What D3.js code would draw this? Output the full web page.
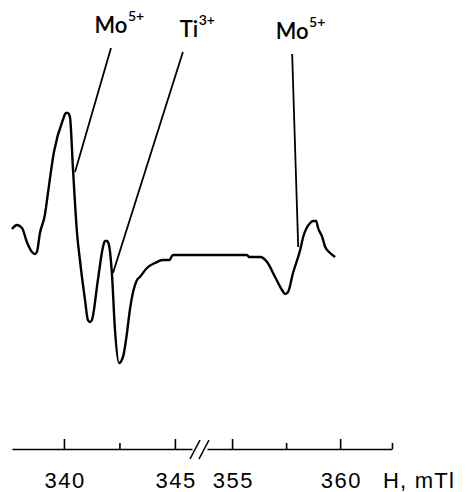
<!DOCTYPE html>
<html>
<head>
<meta charset="utf-8">
<script src="https://cdn.jsdelivr.net/npm/d3@7"></script>
<style>
  body { margin: 0; background: #fff; }
  .tick text { font-family: "Liberation Sans", Arial, sans-serif; letter-spacing: 1.5px; }
  .ion { font-family: Lato, "Open Sans", sans-serif; font-weight: 600; fill: #000; }
</style>
</head>
<body>
<div id="epr"></div>
<script>
// EPR spectrum, field axis broken between 346 and 354 mT

// field (mT) and signal (arbitrary units, 0 = baseline)
let field = [
  337.66, 337.88, 338.11, 338.33, 338.56, 338.69, 338.78, 338.92, 339.14, 339.28,
  339.55, 339.95, 340.09, 340.18, 340.27, 340.41, 340.59, 340.72, 340.95, 341.08,
  341.17, 341.26, 341.53, 341.76, 341.85, 341.94, 342.03, 342.16, 342.30, 342.48,
  342.66, 342.84, 342.97, 343.29, 343.42, 343.74, 344.10, 344.46, 344.77, 344.86,
  344.95, 345.77,
  353.84, 355.69, 355.79, 356.30, 356.62, 356.99, 357.31, 357.45, 357.59, 357.82,
  358.15, 358.29, 358.61, 358.75, 358.89, 358.98, 359.17, 359.31, 359.54, 359.77
]
let signal = [
  26, 30, 27, 13, 3, 1, 3, 22, 40, 62,
  103, 135, 142, 142, 138, 85, 22, -5, -45, -65,
  -67, -65, -25, 8, 14, 14, 10, -18, -75, -108,
  -102, -78, -55, -25, -22, -13, -8, -5, -5, -1,
  0, 0,
  0, 0, -2, -2, -7, -22, -35, -39, -37, -18,
  5, 18, 32, 34, 34, 27, 18, 8, 2, -2
]

// assignment labels with pointer lines: [field, signal] at the top and at the trace
let ionNames = ["Mo", "Ti", "Mo"]
let ionCharges = ["5+", "3+", "5+"]
let pointerTop = [[342.12, 207], [345.36, 203], [357.78, 201]]
let pointerEnd = [[340.50, 83], [342.21, -18], [358.06, 8]]

// axis ticks
let leftDomain = [337.66, 345.77]
let rightDomain = [353.84, 362.4]
let majorLeft = [340, 345]
let majorRight = [355, 360]
let minorLeft = [342.5]
let minorRight = [357.5]
let axisTitle = "H, mTl"

let w = 465, h = 492;

let svg = d3.select("#epr").append("svg")
  .attr("width", w)
  .attr("height", h);

let xl = d3.scaleLinear().domain(leftDomain).range([12, 192]);
let xr = d3.scaleLinear().domain(rightDomain).range([207, 392]);
let y = d3.scaleLinear().domain([-110, 210]).range([365, 45]);

// pick the side of the break
function x(f) {
  return f <= leftDomain[1] ? xl(f) : xr(f);
}

let pts = field.map(function(f, i) { return [f, signal[i]]; });

let line = d3.line()
  .x(function(d) { return x(d[0]); })
  .y(function(d) { return y(d[1]); })
  .curve(d3.curveMonotoneX);

svg.append("path")
  .datum(pts)
  .attr("fill", "none")
  .attr("stroke", "#000")
  .attr("stroke-width", 2.4)
  .attr("stroke-linejoin", "round")
  .attr("d", line);

// pointers + labels
for (let i = 0; i < ionNames.length; i++) {
  let t = pointerTop[i], e = pointerEnd[i];
  svg.append("line")
    .attr("x1", x(t[0])).attr("y1", y(t[1]))
    .attr("x2", x(e[0])).attr("y2", y(e[1]))
    .attr("stroke", "#000")
    .attr("stroke-width", 1.8);

  let base = svg.append("text")
    .classed("ion", true)
    .attr("x", x(t[0]) + (i == 1 ? 6 : 0))
    .attr("y", y(t[1]) - 15)
    .attr("text-anchor", "middle")
    .attr("font-size", 22)
    .text(ionNames[i]);
  let bb = base.node().getBBox();
  svg.append("text")
    .classed("ion", true)
    .attr("x", bb.x + bb.width + 0.5)
    .attr("y", y(t[1]) - 27)
    .attr("font-size", 14)
    .text(ionCharges[i]);
}

// axis
let axisY = 449;

function drawAxis(scale, values, size, labels) {
  let ax = d3.axisBottom(scale)
    .tickValues(values)
    .tickSizeInner(-size)
    .tickSizeOuter(0)
    .tickPadding(23);
  if (!labels) ax.tickFormat("");
  let g = svg.append("g")
    .attr("transform", "translate(0," + axisY + ")")
    .call(ax);
  g.selectAll("line").attr("stroke-width", 1.6);
  g.select(".domain").attr("stroke-width", 1.6);
  g.selectAll("text")
    .attr("font-size", 22)
    .attr("dx", "0.75")
    .attr("fill", "#000");
  return g;
}

drawAxis(xl, majorLeft, 10, true);
drawAxis(xr, majorRight, 10, true);
drawAxis(xl, minorLeft, 6, false).select(".domain").remove();
drawAxis(xr, minorRight.concat([rightDomain[1]]), 6, false).select(".domain").remove();

// break marks
let bx = (xl.range()[1] + xr.range()[0]) / 2;
[-4.5, 4.5].forEach(function(o) {
  svg.append("line")
    .attr("x1", bx + o - 5).attr("y1", axisY + 10)
    .attr("x2", bx + o + 5).attr("y2", axisY - 9)
    .attr("stroke", "#000")
    .attr("stroke-width", 1.6);
});

svg.append("text")
  .attr("x", 383)
  .attr("y", 488)
  .attr("font-family", "Liberation Sans, Arial, sans-serif")
  .attr("font-size", 22)
  .attr("letter-spacing", 1.2)
  .text(axisTitle);
</script>
</body>
</html>
